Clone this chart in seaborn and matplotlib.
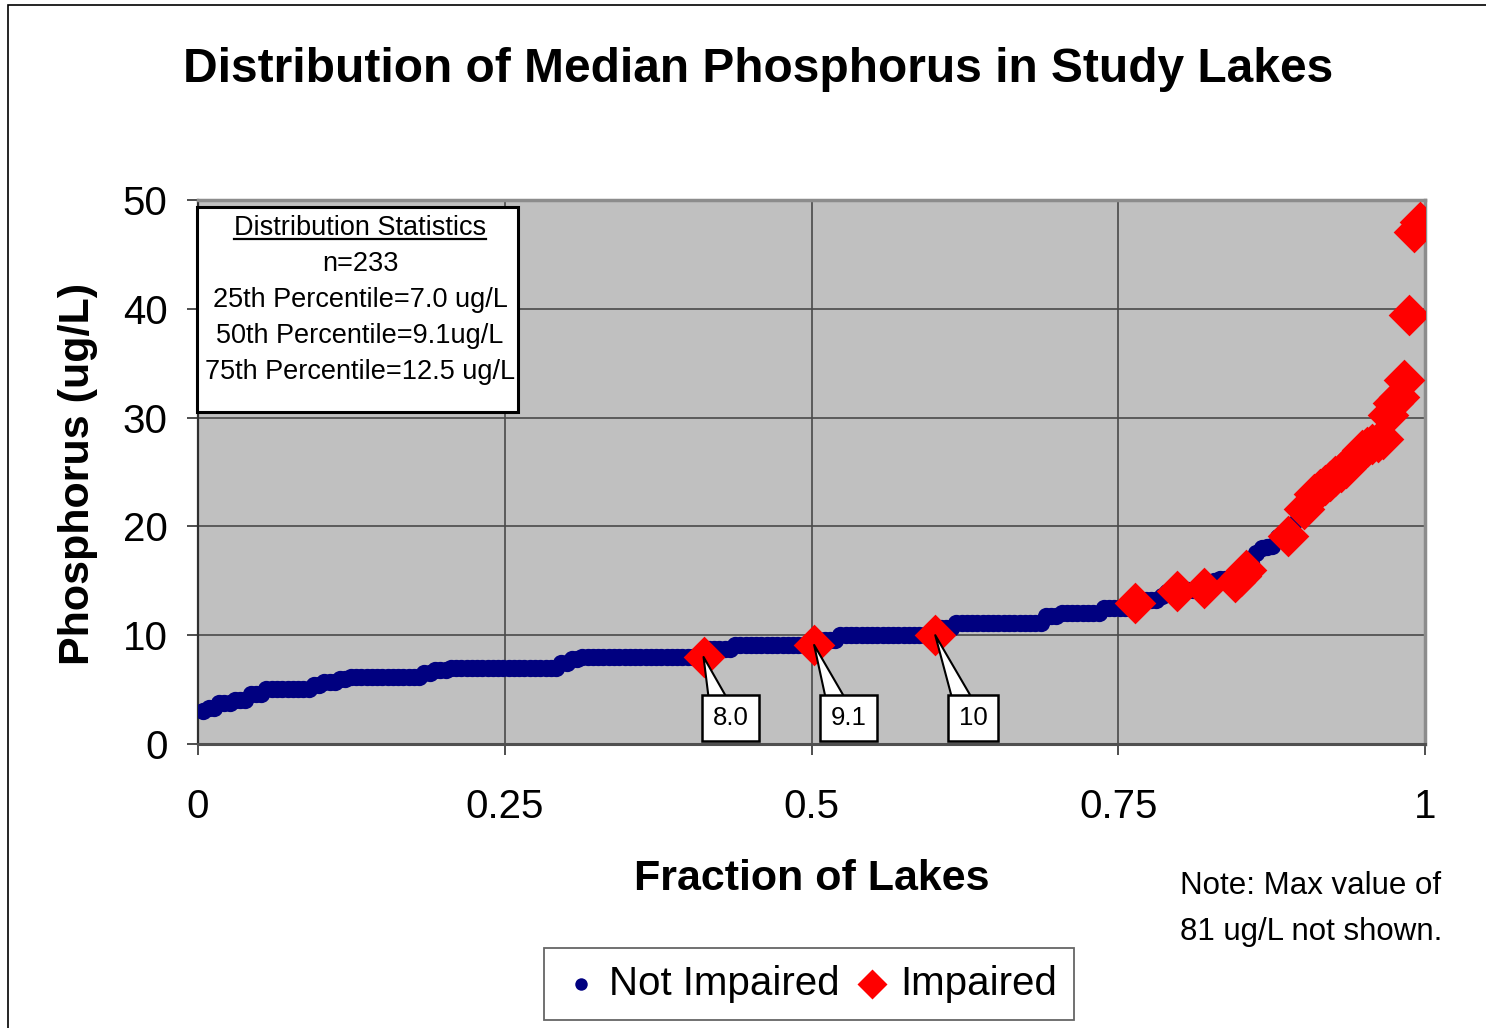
import numpy as np
import pandas as pd
import matplotlib
matplotlib.use("Agg")
import matplotlib.pyplot as plt
import seaborn as sns
from matplotlib.patches import Rectangle

plt.rcParams["font.family"] = ["Liberation Sans", "DejaVu Sans"]

n_lakes = 233

# not impaired lakes, read off the sorted curve as level + number of lakes on it
not_impaired_levels = [3.0, 3.3, 3.8, 4.0, 4.6, 5.1, 5.4, 5.7, 6.0, 6.2, 6.5, 6.8,
                       7.0, 7.4, 7.8, 8.0, 8.7, 9.1, 9.6, 10.0, 10.7, 11.1, 11.8,
                       12.0, 12.5, 13.2, 13.6, 14.0, 14.1, 14.2, 14.6, 15.0, 15.2,
                       15.3, 16.6, 17.6, 18.0, 18.1, 18.2, 19.0, 19.1, 20.2, 21.0, 22.0]
not_impaired_counts = [1, 2, 3, 3, 3, 9, 2, 3, 2, 14, 2, 3,
                       21, 2, 2, 23, 5, 15, 4, 18, 3, 17, 3,
                       8, 6, 4, 1, 1, 1, 4, 1, 1, 2,
                       1, 1, 1, 1, 1, 1, 1, 1, 1, 1, 1]

# impaired lakes: rank in the sorted list and value
impaired_ranks = [96, 117, 140, 178, 186, 191, 197, 198, 199, 207, 210,
                  212, 213, 214, 215, 216, 217, 218, 219, 220,
                  221, 222, 223, 224, 225,
                  226, 227, 228, 229, 230, 231, 232, 233]
impaired_values = [8.0, 9.1, 10.0, 13.0, 14.1, 14.3, 14.9, 15.4, 16.0, 19.1, 21.6,
                   23.0, 23.4, 23.8, 24.2, 24.6, 25.0, 25.4, 25.9, 26.5,
                   27.0, 27.3, 27.6, 27.8, 28.0,
                   30.2, 31.3, 31.9, 33.5, 39.4, 47.1, 48.0, 81.0]

labelled_ranks = [96, 117, 140]
labelled_text = ["8.0", "9.1", "10"]

stats_title = "Distribution Statistics"
stats_lines = ["n=233", "25th Percentile=7.0 ug/L",
               "50th Percentile=9.1ug/L", "75th Percentile=12.5 ug/L"]

xtick_vals = [0, 0.25, 0.5, 0.75, 1]
xtick_labels = ["0", "0.25", "0.5", "0.75", "1"]
ytick_vals = [0, 10, 20, 30, 40, 50]

# build the frame
blue_ranks = [r for r in range(1, n_lakes + 1) if r not in set(impaired_ranks)]
blue = pd.DataFrame({
    "rank": blue_ranks,
    "phosphorus": np.repeat(not_impaired_levels, not_impaired_counts),
    "status": "Not Impaired",
})
red = pd.DataFrame({
    "rank": impaired_ranks,
    "phosphorus": impaired_values,
    "status": "Impaired",
})
df = pd.concat([blue, red], ignore_index=True)
df["fraction"] = df["rank"] / n_lakes

fig = plt.figure(figsize=(14.86, 10.28), dpi=100)
ax = fig.add_axes([198 / 1486, 1 - 744 / 1028, 1227 / 1486, 544 / 1028])
ax.set_facecolor("#C0C0C0")

sns.scatterplot(data=df[df["status"] == "Not Impaired"], x="fraction", y="phosphorus",
                color="#000080", marker="o", s=155, linewidth=0,
                label="Not Impaired", legend=False, ax=ax, zorder=3)
sns.scatterplot(data=df[df["status"] == "Impaired"], x="fraction", y="phosphorus",
                color="#FF0000", marker="D", s=450, linewidth=0,
                label="Impaired", legend=False, ax=ax, zorder=4)

ax.set_xlim(0, 1)
ax.set_ylim(0, 50)
ax.set_xticks(xtick_vals)
ax.set_xticklabels(xtick_labels)
ax.set_yticks(ytick_vals)
ax.set_axisbelow(True)
ax.grid(True, color="#4a4a4a", linewidth=1.2)

ax.tick_params(axis="x", length=8, width=1.3, pad=24, labelsize=29, color="#404040")
ax.tick_params(axis="y", length=8, width=1.3, pad=14, labelsize=29, color="#404040")
for side in ["top", "right"]:
    ax.spines[side].set_color("#8c8c8c")
    ax.spines[side].set_linewidth(2.5)
ax.spines["left"].set_color("#303030")
ax.spines["left"].set_linewidth(1.6)
ax.spines["bottom"].set_color("#505050")
ax.spines["bottom"].set_linewidth(2.2)

ax.set_xlabel("Fraction of Lakes", fontsize=31, fontweight="bold")
ax.set_ylabel("Phosphorus (ug/L)", fontsize=31, fontweight="bold")
ax.xaxis.set_label_coords(0.5004, -0.2480)
ax.xaxis.label.set_va("center")
ax.yaxis.set_label_coords(-0.0978, 0.496)
ax.yaxis.label.set_va("center")

# callout labels on the percentile lakes
label_box_dx = [0.022, 0.028, 0.031]
label_box_y = 2.4
for rank, txt, dx in zip(labelled_ranks, labelled_text, label_box_dx):
    row = df[df["rank"] == rank].iloc[0]
    ax.annotate(txt, xy=(row["fraction"], row["phosphorus"]),
                xytext=(row["fraction"] + dx, label_box_y), textcoords="data",
                ha="center", va="center", fontsize=18.5, zorder=6,
                bbox=dict(boxstyle="square,pad=0.42", fc="white", ec="black", lw=1.8),
                arrowprops=dict(arrowstyle="wedge,tail_width=0.8,shrink_factor=0.5",
                                fc="white", ec="black", lw=1.5, relpos=(0.2, 1.0),
                                shrinkA=0, shrinkB=0, patchA=None))

# statistics box
ax.add_patch(Rectangle((-0.001, 0.610), 0.262, 0.377, transform=ax.transAxes,
                       fc="white", ec="black", lw=2.2, zorder=5, clip_on=False))
header = ax.text(0.132, 0.9485, stats_title, transform=ax.transAxes,
                 ha="center", va="center", fontsize=19.5, zorder=6)
for i, line in enumerate(stats_lines):
    ax.text(0.132, 0.882 - 0.066 * i, line, transform=ax.transAxes,
            ha="center", va="center", fontsize=19.5, zorder=6)

fig.text(758 / 1486, 1 - 70 / 1028, "Distribution of Median Phosphorus in Study Lakes",
         ha="center", va="center", fontsize=34.5, fontweight="bold")
fig.text(1180 / 1486, 1 - 909 / 1028, "Note: Max value of\n81 ug/L not shown.",
         ha="left", va="center", fontsize=22.5, linespacing=1.68)

handles, labels = ax.get_legend_handles_labels()
leg = fig.legend(handles, labels, loc="center", bbox_to_anchor=(809 / 1486, 1 - 984 / 1028),
                 ncol=2, fontsize=29, frameon=True, fancybox=False, edgecolor="#404040",
                 handletextpad=0.2, columnspacing=0.3, borderpad=0.42, handlelength=1.0,
                 markerscale=0.72)
leg.get_frame().set_linewidth(1.3)

# chart area border (top and left edges visible in the crop)
fig.add_artist(Rectangle((8 / 1486, -0.05), 1.2, 1.05 - 5 / 1028, transform=fig.transFigure,
                         fill=False, ec="black", lw=1.2))

# underline the stats header
fig.canvas.draw()
bb = header.get_window_extent()
inv = ax.transAxes.inverted()
x0, y0 = inv.transform((bb.x0, bb.y0 + 2))
x1, _ = inv.transform((bb.x1, bb.y0 + 2))
ax.plot([x0, x1], [y0, y0], transform=ax.transAxes, color="black", lw=1.6,
        clip_on=False, zorder=6)

fig.savefig("out.png", dpi=100)
